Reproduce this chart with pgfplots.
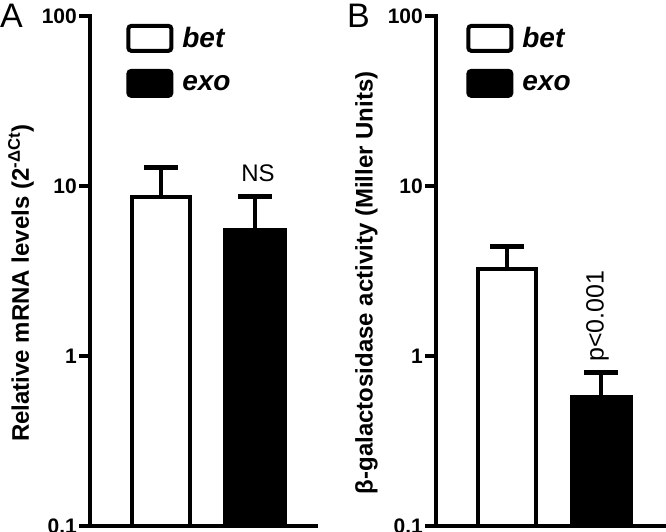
\documentclass[border=0pt]{standalone}
\usepackage{pgfplots}
\pgfplotsset{compat=1.18}
\usepackage{fontspec}
\setmainfont{Liberation Sans}

\pgfplotsset{
  boxleg/.style={legend image code/.code={
    \draw[##1, line width=4pt, rounded corners=3pt] (0pt,-12.5pt) rectangle (43pt,12.5pt);}},
}

\begin{document}
\begin{tikzpicture}
\path[use as bounding box] (0pt,0pt) rectangle (666pt,531pt);
\pgfplotsset{
  scale only axis,
  height=510pt,
  ymin=0.1, ymax=100,
  xmin=0,
  axis lines=left,
  axis line style={-, line width=4.5pt, line cap=rect},
  ytick={0.1,1,10,100},
  yticklabels={0.1,1,10,100},
  yminorticks=false,
  xtick=\empty,
  tick align=outside,
  major tick length=11pt,
  tick style={line width=4.5pt, black},
  yticklabel style={font=\bfseries\fontsize{21}{23}\selectfont, inner sep=2pt},
  /pgf/number format/assume math mode=true,
  ylabel style={font=\bfseries\fontsize{24}{28}\selectfont, anchor=center},
  error bars/y dir=plus, error bars/y explicit,
  error bars/error mark=|,
  error bars/error bar style={line width=4.5pt, black},
  error bars/error mark options={line width=5pt, mark size=17pt, black},
  legend style={draw=none, fill=none, anchor=north west, inner sep=0pt,
    nodes={inner sep=0pt}, column sep=9pt, row sep=16pt,
    font=\bfseries\itshape\fontsize{28}{30}\selectfont},
  legend cell align=left,
}

% panel A
\begin{semilogyaxis}[
  at={(90pt,5pt)}, anchor=south west,
  width=226pt, xmax=226,
  ybar, bar shift=0pt, log origin=infty,
  ylabel={Relative mRNA levels (2\textsuperscript{-ΔCt})},
  ylabel style={at={(axis description cs:-0.305,0.476)}},
  legend style={at={(axis description cs:0.16,0.985)}},
]
\addplot[fill=white, draw=black, line width=4pt, bar width=58, boxleg]
  coordinates {(71,8.62) +- (0,4.28)};
\addplot[fill=black, draw=black, line width=4pt, bar width=60, boxleg]
  coordinates {(165,5.51) +- (0,3.11)};
\legend{bet, exo}
\node[anchor=base, font=\fontsize{24}{26}\selectfont, inner sep=0pt]
  at ([yshift=15pt]axis cs:168,8.62) {NS};
\end{semilogyaxis}

% panel B
\begin{semilogyaxis}[
  at={(436pt,5pt)}, anchor=south west,
  width=232pt, xmax=232,
  ybar, bar shift=0pt, log origin=infty,
  ylabel={β-galactosidase activity (Miller Units)},
  ylabel style={at={(axis description cs:-0.30,0.477)}},
  legend style={at={(axis description cs:0.13,0.985)}},
]
\addplot[fill=white, draw=black, line width=4pt, bar width=58, boxleg]
  coordinates {(71,3.25) +- (0,1.13)};
\addplot[fill=black, draw=black, line width=4pt, bar width=59, boxleg]
  coordinates {(165,0.574) +- (0,0.231)};
\legend{bet, exo}
\node[anchor=west, rotate=90, font=\fontsize{25}{27}\selectfont, inner sep=0pt]
  at ([yshift=10pt]axis cs:161.5,0.805) {p<0.001};
\end{semilogyaxis}

\node[anchor=base west, inner sep=0pt, font=\fontsize{34}{36}\selectfont] at (0pt,503pt) {A};
\node[anchor=base west, inner sep=0pt, font=\fontsize{34}{36}\selectfont] at (347pt,503pt) {B};
\end{tikzpicture}
\end{document}
